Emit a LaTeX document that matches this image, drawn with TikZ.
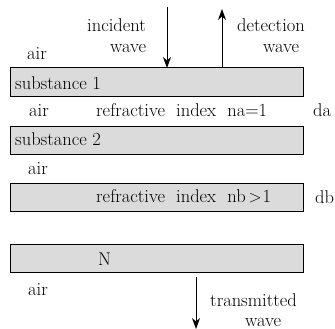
\documentclass[tikz,border=0pt]{standalone}
\usetikzlibrary{arrows.meta}
\begin{document}
\begin{tikzpicture}[x=1pt,y=-1pt]
\tikzset{
  slab/.style={draw=black, line width=1pt, fill=black!14, minimum width=293pt,
    minimum height=28pt, inner sep=0pt, outer sep=0pt, anchor=north west},
  lbl/.style={inner sep=0pt, anchor=base west, font=\fontsize{18.5}{20}\selectfont},
  wavearrow/.style={line width=0.9pt, -{Stealth[length=11pt,width=8pt,inset=3.5pt]}}
}
\newcommand{\wsp}{\hspace{0.6em}}
\useasboundingbox (0,0) rectangle (335,329);

% layers
\node[slab, minimum height=29pt] (s1) at (10,68) {};
\node[slab] (s2) at (10,126) {};
\node[slab] (s3) at (10,183) {};
\node[slab] (sN) at (10,244) {};

% labels above the first layer
\node[lbl] (inc) at (87,32) {incident};
\node[lbl] (incw) at (110,53) {wave};
\node[lbl] (det) at (237,32) {detection};
\node[lbl] (detw) at (263,53) {wave};
\node[lbl] (air1) at (27,60) {air};

% labels in and between the layers
\node[lbl] (t1) at (15,90) {substance 1};
\node[lbl] (air2) at (29,117) {air};
\node[lbl] (na) at (96,117) {refractive\wsp index\wsp na=1};
\node[lbl] (da) at (313,117) {da};
\node[lbl] (t2) at (15,146) {substance 2};
\node[lbl] (air3) at (28,175) {air};
\node[lbl] (nb) at (96,202) {refractive\wsp index\wsp nb\hspace{0.15em}$>$\hspace{0.05em}1};
\node[lbl] (db) at (315,203) {db};
\node[lbl] (tN) at (98,265) {N};
\node[lbl] (air4) at (28,295) {air};
\node[lbl] (tr) at (210,306) {transmitted};
\node[lbl] (trw) at (245,326) {wave};

% waves
\coordinate (incS) at (167,7);
\coordinate (detE) at (222,9);
\coordinate (trE) at (196,329);
\draw[wavearrow] (incS) -- (incS |- s1.north);
\draw[wavearrow] (s1.north -| detE) -- (detE);
\draw[wavearrow] (sN.south -| trE) ++(0,5) -- (trE);
\end{tikzpicture}
\end{document}
